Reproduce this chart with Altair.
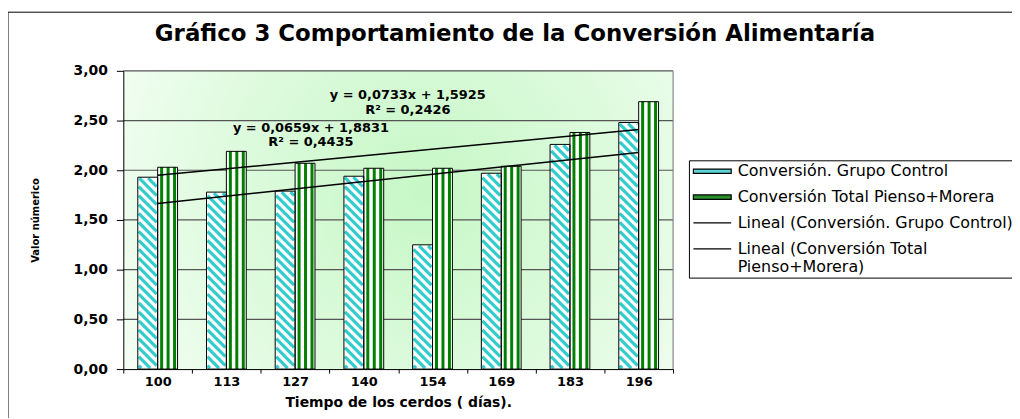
import altair as alt
import pandas as pd

# ---------------- data ----------------
days = ["100", "113", "127", "140", "154", "169", "183", "196"]
control = [1.93, 1.78, 1.79, 1.94, 1.25, 1.97, 2.26, 2.48]
total = [2.03, 2.19, 2.07, 2.02, 2.02, 2.04, 2.38, 2.69]
series_names = [
    "Conversión. Grupo Control",
    "Conversión Total Pienso+Morera",
    "Lineal (Conversión. Grupo Control)",
    "Lineal (Conversión Total Pienso+Morera)",
]
trend_slope = [0.0733, 0.0659]
trend_icept = [1.5925, 1.8831]
eq_text = ["y = 0,0733x + 1,5925", "R² = 0,2426", "y = 0,0659x + 1,8831", "R² = 0,4435"]
eq_x = [4.64, 4.64, 3.23, 3.23]
eq_y = [2.76, 2.61, 2.42, 2.28]
y_ticks = [0, 0.5, 1, 1.5, 2, 2.5, 3]
title_text = "Gráfico 3 Comportamiento de la Conversión Alimentaría"
x_title = "Tiempo de los cerdos ( días)."
y_title = "Valor númerico"

FONT = "DejaVu Sans"
CYAN = "#33cccc"
GREEN = "#008000"

W, H = 553, 300
n = len(days)
ppu_x = W / n
ppu_y = H / 3.0
bar_w = 20 / ppu_x

# ---------------- derived tables ----------------
idx = list(range(1, n + 1))
bars_c = pd.DataFrame({"x0": [i - bar_w for i in idx], "x1": idx, "v": control, "b": 0.0})
bars_t = pd.DataFrame({"x0": idx, "x1": [i + bar_w for i in idx], "v": total, "b": 0.0})
bars_all = pd.concat([bars_c, bars_t], ignore_index=True)

# diagonal hatch for control bars (pattern fill)
P = 9.0
inset = 1.0
hrows = []
for i, v in zip(idx, control):
    Wp, Hp = 20.0, v * ppu_y
    u0, u1, v0, v1 = inset, Wp - inset, inset, Hp - inset
    c = P / 2
    while c < Hp + Wp:
        ua = max(u0, c - v1)
        ub = min(u1, c - v0)
        if ub > ua:
            hrows.append(dict(x=i - bar_w + ua / ppu_x, x2=i - bar_w + ub / ppu_x,
                              y=(c - ua) / ppu_y, y2=(c - ub) / ppu_y))
        c += P
hatch = pd.DataFrame(hrows)

# vertical stripes for total bars
stripe_px = [(2.5, 5.5), (9.0, 12.0), (15.5, 18.5)]
srows = []
for i, v in zip(idx, total):
    for a, b in stripe_px:
        srows.append(dict(x0=i + a / ppu_x, x1=i + b / ppu_x, v=v, b=0.0))
stripes = pd.DataFrame(srows)

trend = pd.DataFrame([
    dict(s=series_names[2 + k], x=xx, y=trend_slope[k] * xx + trend_icept[k])
    for k in range(2) for xx in (1, n)
])
eqs = pd.DataFrame({"x": eq_x, "y": eq_y, "t": eq_text})
grid = pd.DataFrame({"y": [t for t in y_ticks if t > 0]})
bg = pd.DataFrame({"x": [0.5], "x2": [n + 0.5], "y": [0.0], "y2": [3.0]})
leg = pd.DataFrame({"s": series_names})

# ---------------- scales / axes ----------------
xscale = alt.Scale(domain=[0.5, n + 0.5], nice=False, zero=False)
yscale = alt.Scale(domain=[0, 3], nice=False)
lab_arr = "[" + ",".join("'%s'" % d for d in days) + "]"
xaxis = alt.Axis(
    values=[i + 0.5 for i in range(n + 1)],
    labelExpr="datum.value > %d ? '' : %s[round(datum.value - 0.5)]" % (n, lab_arr),
    labelOffset=ppu_x / 2, labelOverlap=False, labelFlush=False, labelBound=False,
    tickSize=4, tickColor="black", domainColor="black", labelPadding=3,
    labelFont=FONT, labelFontSize=13, labelFontWeight="bold", labelColor="black",
    titleFont=FONT, titleFontSize=14, titleFontWeight="bold", titleColor="black",
    titlePadding=7, grid=False, zindex=1,
)
yaxis = alt.Axis(
    values=y_ticks,
    labelExpr="replace(format(datum.value, '.2f'), '.', ',')",
    tickSize=7, tickColor="black", domainColor="black", labelPadding=9,
    labelFont=FONT, labelFontSize=14, labelFontWeight="bold", labelColor="black",
    titleFont=FONT, titleFontSize=10, titleFontWeight="bold", titleColor="black",
    titlePadding=33, grid=False, zindex=1, labelOverlap=False,
)


def X(f):
    return alt.X(f, type="quantitative", scale=xscale, axis=xaxis, title=x_title)


def Y(f):
    return alt.Y(f, type="quantitative", scale=yscale, axis=yaxis, title=y_title)


grad = alt.RadialGradient(
    gradient="radial",
    stops=[alt.GradientStop(color="#c6f7c6", offset=0),
           alt.GradientStop(color="#e2fbe2", offset=0.55),
           alt.GradientStop(color="#ffffff", offset=1)],
    x1=0.55, y1=0.45, x2=0.55, y2=0.45, r1=0, r2=0.75,
)

background = alt.Chart(bg).mark_rect(fill=grad).encode(
    x=X("x"), x2="x2", y=Y("y"), y2="y2")

gridlines = alt.Chart(grid).mark_rule(color="#555555", strokeWidth=1.2).encode(
    y=Y("y"))

right_edge = alt.Chart(bg).mark_rule(color="#808080", strokeWidth=1).encode(
    x=X("x2"), y=Y("y"), y2="y2")

white_bars = alt.Chart(bars_all).mark_rect(fill="white").encode(
    x=X("x0"), x2="x1", y=Y("v"), y2="b")

hatch_layer = alt.Chart(hatch).mark_rule(color=CYAN, strokeWidth=3.2, strokeCap="butt").encode(
    x=X("x"), x2="x2", y=Y("y"), y2="y2")

stripe_layer = alt.Chart(stripes).mark_rect(fill=GREEN).encode(
    x=X("x0"), x2="x1", y=Y("v"), y2="b")

outlines = alt.Chart(bars_all).mark_rect(fillOpacity=0, stroke="black", strokeWidth=1).encode(
    x=X("x0"), x2="x1", y=Y("v"), y2="b")

trend_layer = alt.Chart(trend).mark_line(color="black", strokeWidth=1.5).encode(
    x=X("x"), y=Y("y"), detail="s:N")

eq_layer = alt.Chart(eqs).mark_text(font=FONT, fontSize=13, fontWeight="bold", color="black").encode(
    x=X("x"), y=Y("y"), text="t:N")

# legend: symbols are wide flat rectangles / lines drawn with custom paths
sym_box = "M-1,-0.34H4.85V0.34H-1Z"
sym_line = "M-1,0H4.85"
legend = alt.Legend(
    orient="none", legendX=569, legendY=90, title=None, padding=3,
    strokeColor="black", fillColor="white", cornerRadius=0,
    symbolSize=169, symbolStrokeWidth=1.2, symbolOpacity=1,
    labelFont=FONT, labelFontSize=16, labelColor="black", labelOffset=30,
    rowPadding=10, labelLimit=500,
    labelExpr="datum.label == '%s' ? ['Lineal (Conversión Total', 'Pienso+Morera)'] : datum.label" % series_names[3],
)
legend_layer = alt.Chart(leg).mark_point(filled=True, opacity=0).encode(
    fill=alt.Fill("s:N", scale=alt.Scale(domain=series_names,
                                         range=["#5cd6d6", "#2a8f2a", "transparent", "transparent"]),
                  legend=legend),
    stroke=alt.Stroke("s:N", scale=alt.Scale(domain=series_names,
                                             range=["black", "black", "black", "black"]),
                      legend=legend),
    shape=alt.Shape("s:N", scale=alt.Scale(domain=series_names,
                                           range=[sym_box, sym_box, sym_line, sym_line]),
                    legend=legend),
)

title_layer = alt.Chart(pd.DataFrame({"t": [title_text]})).mark_text(
    font=FONT, fontSize=23, fontWeight="bold", color="black", align="center", baseline="middle"
).encode(x=alt.value(394), y=alt.value(-37), text="t:N")

frame = alt.Chart(pd.DataFrame({"a": [0]})).mark_rect(
    fillOpacity=0, stroke="black", strokeWidth=1
).encode(x=alt.value(-116), x2=alt.value(900), y=alt.value(-59), y2=alt.value(400))

chart = alt.layer(
    background, gridlines, right_edge, white_bars, hatch_layer, stripe_layer, outlines,
    trend_layer, eq_layer, legend_layer, title_layer, frame
).properties(
    width=W, height=H,
    padding={"left": 116, "top": 62, "right": 341, "bottom": 48},
    autosize=alt.AutoSizeParams(type="none"),
).configure_view(stroke="#808080", strokeWidth=1).configure(background="white")

chart.save("out.html", embed_options={"renderer": "svg", "actions": False})
